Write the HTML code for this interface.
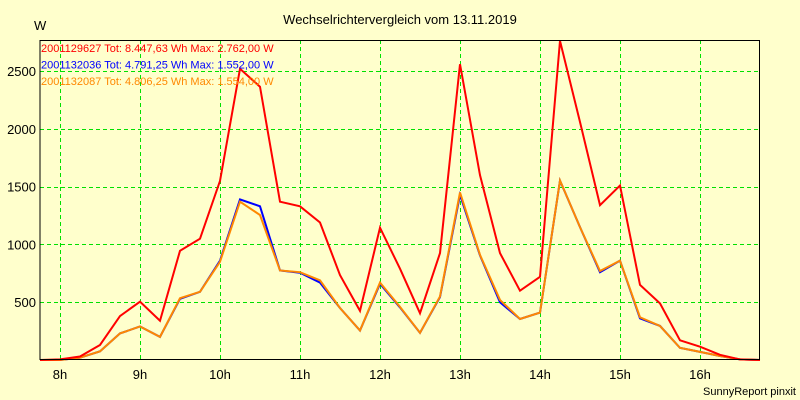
<!DOCTYPE html>
<html><head><meta charset="utf-8"><style>
body{margin:0;background:#ffffcc;}
svg{display:block;font-family:"Liberation Sans",sans-serif;}
</style></head><body>
<svg id="chart" width="800" height="400">
<rect width="800" height="400" fill="#ffffcc"/>
<text x="400" y="24" text-anchor="middle" font-size="13">Wechselrichtervergleich vom 13.11.2019</text>
<text x="34" y="30" font-size="13">W</text>
<g id="grid"></g>
<g id="series"></g>
<line x1="40" y1="40" x2="40" y2="360" stroke="#000"/>
<line x1="40" y1="359.5" x2="760" y2="359.5" stroke="#000"/>
<line x1="40" y1="40.5" x2="760" y2="40.5" stroke="#000"/>
<line x1="759.5" y1="40" x2="759.5" y2="360" stroke="#000"/>
<g id="legend" font-size="11"></g>
<text x="796" y="395" text-anchor="end" font-size="11">SunnyReport pinxit</text>
</svg>
<script>
const yTicks=[500,1000,1500,2000,2500];
const hourLabels=["8h","9h","10h","11h","12h","13h","14h","15h","16h"];
const hourValues=[8,9,10,11,12,13,14,15,16];
const startHour=7.75, stepHour=0.25;
const redSeries=[0,5,30,130,380,505,340,945,1050,1550,2520,2365,1370,1330,1190,735,425,1145,790,405,925,2560,1600,925,600,720,2762,2060,1340,1510,650,490,170,115,45,5,0];
const blueSeries=[0,0,20,75,230,290,200,530,590,860,1390,1330,775,755,670,450,255,660,455,235,545,1430,905,500,355,410,1552,1150,760,860,360,295,105,70,35,5,0];
const orangeSeries=[0,0,20,75,230,290,200,535,590,850,1370,1255,775,760,690,450,255,670,460,235,550,1450,910,520,355,410,1554,1150,770,860,370,295,105,70,35,5,0];
const legendTexts=["2001129627 Tot: 8.447,63 Wh Max: 2.762,00 W","2001132036 Tot: 4.791,25 Wh Max: 1.552,00 W","2001132087 Tot: 4.806,25 Wh Max: 1.554,00 W"];
const NS="http://www.w3.org/2000/svg";
const xOf=h=>40+(h-startHour)*80;
const yOf=v=>360-v*0.11555;
const grid=document.getElementById('grid');
yTicks.forEach(v=>{
 const l=document.createElementNS(NS,'line');
 l.setAttribute('x1',40);l.setAttribute('x2',760);l.setAttribute('y1',Math.round(yOf(v))+0.5);l.setAttribute('y2',Math.round(yOf(v))+0.5);
 l.setAttribute('stroke','#00e000');l.setAttribute('stroke-dasharray','4,3');
 
 
 grid.appendChild(l);
 const t=document.createElementNS(NS,'text');
 t.setAttribute('x',36);t.setAttribute('y',yOf(v)+5);t.setAttribute('text-anchor','end');t.setAttribute('font-size','13');
 t.textContent=v;
 
 
 grid.appendChild(t);
});
hourValues.forEach((h,i)=>{
 const x=Math.round(xOf(h))+0.5;
 const l=document.createElementNS(NS,'line');
 l.setAttribute('x1',x);l.setAttribute('x2',x);l.setAttribute('y1',40);l.setAttribute('y2',360);
 l.setAttribute('stroke','#00e000');l.setAttribute('stroke-dasharray','4,3');
 
 
 grid.appendChild(l);
 const t=document.createElementNS(NS,'text');
 t.setAttribute('x',xOf(h));t.setAttribute('y',379);t.setAttribute('text-anchor','middle');t.setAttribute('font-size','13');
 t.textContent=hourLabels[i];
 
 
 grid.appendChild(t);
});
const ser=document.getElementById('series');
function draw(data,color,name){
 const p=document.createElementNS(NS,'polyline');
 p.setAttribute('points',data.map((v,i)=>xOf(startHour+i*stepHour)+','+yOf(v)).join(' '));
 p.setAttribute('fill','none');p.setAttribute('stroke',color);p.setAttribute('stroke-width','2');
 
 
 ser.appendChild(p);
}
draw(blueSeries,'#0000ff','series-2001132036');
draw(orangeSeries,'#ff8800','series-2001132087');
draw(redSeries,'#ff0000','series-2001129627');
const lg=document.getElementById('legend');
const lc=['#ff0000','#0000ff','#ff8800'];
legendTexts.forEach((s,i)=>{
 const t=document.createElementNS(NS,'text');
 t.setAttribute('x',41);t.setAttribute('y',52+i*16.5);t.setAttribute('fill',lc[i]);
 t.textContent=s;
 
 
 lg.appendChild(t);
});
</script>
</body></html>
